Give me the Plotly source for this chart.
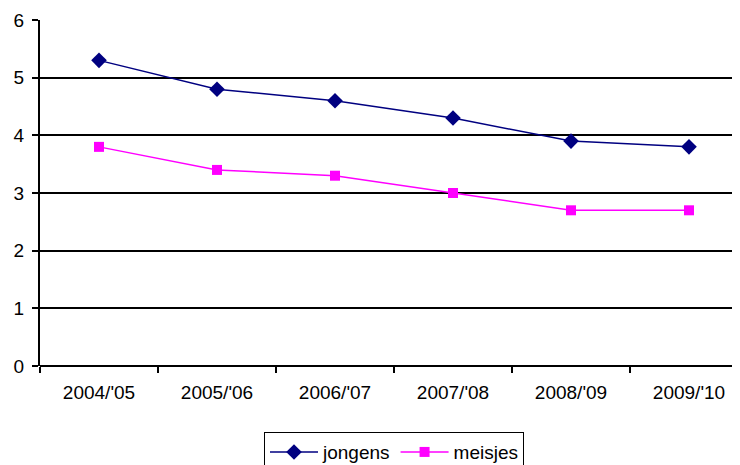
import plotly.graph_objects as go

categories = ["2004/'05", "2005/'06", "2006/'07", "2007/'08", "2008/'09", "2009/'10"]
jongens = [5.3, 4.8, 4.6, 4.3, 3.9, 3.8]
meisjes = [3.8, 3.4, 3.3, 3.0, 2.7, 2.7]
y_ticks = [0, 1, 2, 3, 4, 5, 6]

font = "Liberation Sans, Arial, sans-serif"

fig = go.Figure()
fig.add_trace(go.Scatter(
    x=categories, y=jongens, name="jongens", mode="lines+markers",
    line=dict(color="#000080", width=1.5),
    marker=dict(symbol="diamond", size=12, color="#000080"),
))
fig.add_trace(go.Scatter(
    x=categories, y=meisjes, name="meisjes", mode="lines+markers",
    line=dict(color="#FF00FF", width=1.5),
    marker=dict(symbol="square", size=10, color="#FF00FF"),
))

fig.update_layout(
    width=740, height=465,
    margin=dict(l=32, r=0, t=12, b=107),
    paper_bgcolor="white", plot_bgcolor="white",
    font=dict(family=font, size=19, color="black"),
    showlegend=True,
    legend=dict(
        orientation="h", x=0.5, xanchor="center", y=-0.191, yanchor="top",
        bordercolor="black", borderwidth=1, font=dict(size=19),
        itemwidth=48,
    ),
    xaxis=dict(
        type="category", range=[-0.5, 5.5], automargin=False,
        tickson="boundaries", ticks="outside", ticklen=6, tickcolor="black", tickwidth=1.5,
        showgrid=False, showline=False, zeroline=False,
        ticklabelstandoff=13, tickfont=dict(size=19),
    ),
    yaxis=dict(
        range=[0, 6], tickvals=y_ticks, ticks="outside", ticklen=6, automargin=False,
        tickcolor="black", tickwidth=1.5,
        showgrid=True, gridcolor="black", gridwidth=1.5,
        showline=True, linecolor="black", linewidth=2,
        zeroline=True, zerolinecolor="black", zerolinewidth=2,
        ticklabelstandoff=4, tickfont=dict(size=19),
    ),
)

fig.write_html("out.html")
